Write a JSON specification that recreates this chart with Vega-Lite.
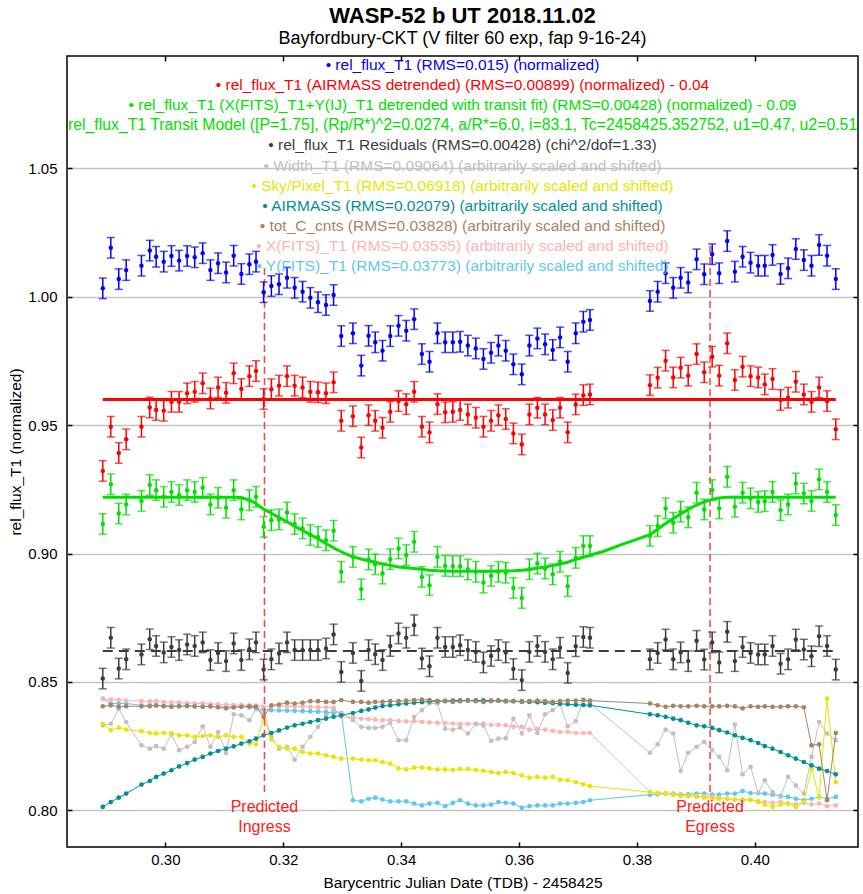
{
"$schema":"https://vega.github.io/schema/vega-lite/v6.json",
"width":791,"height":791,
"autosize":{"type":"none"},
"padding":{"left":67,"top":56,"right":5,"bottom":47},
"background":"white",
"title":{"text":"WASP-52 b UT 2018.11.02","subtitle":"Bayfordbury-CKT (V filter 60 exp, fap 9-16-24)","font":"Liberation Sans","fontSize":22,"fontWeight":"bold","subtitleFont":"Liberation Sans","subtitleFontSize":18,"color":"black","subtitleColor":"black","anchor":"middle","offset":6,"subtitlePadding":2},
"config":{
"view":{"stroke":"black","strokeWidth":1.5},
"font":"Liberation Sans",
"axis":{"labelFont":"Liberation Sans","titleFont":"Liberation Sans","labelColor":"black","titleColor":"black","labelFontSize":15,"titleFontSize":15.5,"titleFontWeight":"normal","domain":false,"tickColor":"black","tickSize":-5,"tickWidth":1.5,"grid":false}
},
"datasets":{
"obs":[
{"t":0.28937,"b":1.0033,"r":0.9322,"g":0.9115,"k":0.8513,"w":0.8331,"s":0.8337,"a":0.8013,"c":0.8405,"xf":0.8433,"yf":0.8435,"e":0.004},
{"t":0.29073,"b":1.0191,"r":0.9494,"g":0.9270,"k":0.8672,"w":0.8337,"s":0.8312,"a":0.8032,"c":0.8409,"xf":0.8431,"yf":0.8416,"e":0.004},
{"t":0.29208,"b":1.0069,"r":0.9392,"g":0.9156,"k":0.8552,"w":0.8395,"s":0.8322,"a":0.8049,"c":0.8403,"xf":0.8430,"yf":0.8416,"e":0.004},
{"t":0.29334,"b":1.0104,"r":0.9445,"g":0.9191,"k":0.8588,"w":0.8344,"s":0.8314,"a":0.8065,"c":0.8405,"xf":0.8427,"yf":0.8416,"e":0.004},
{"t":0.29593,"b":1.0121,"r":0.9494,"g":0.9205,"k":0.8607,"w":0.8253,"s":0.8308,"a":0.8100,"c":0.8405,"xf":0.8425,"yf":0.8409,"e":0.004},
{"t":0.29734,"b":1.0180,"r":0.9569,"g":0.9267,"k":0.8666,"w":0.8240,"s":0.8301,"a":0.8114,"c":0.8405,"xf":0.8424,"yf":0.8409,"e":0.004},
{"t":0.29842,"b":1.0156,"r":0.9559,"g":0.9247,"k":0.8640,"w":0.8250,"s":0.8299,"a":0.8130,"c":0.8409,"xf":0.8425,"yf":0.8408,"e":0.004},
{"t":0.29971,"b":1.0137,"r":0.9556,"g":0.9221,"k":0.8615,"w":0.8240,"s":0.8301,"a":0.8143,"c":0.8405,"xf":0.8421,"yf":0.8407,"e":0.004},
{"t":0.30102,"b":1.0159,"r":0.9591,"g":0.9240,"k":0.8636,"w":0.8295,"s":0.8301,"a":0.8156,"c":0.8403,"xf":0.8420,"yf":0.8407,"e":0.004},
{"t":0.30232,"b":1.0141,"r":0.9591,"g":0.9228,"k":0.8624,"w":0.8234,"s":0.8292,"a":0.8171,"c":0.8405,"xf":0.8419,"yf":0.8406,"e":0.004},
{"t":0.30368,"b":1.0159,"r":0.9624,"g":0.9247,"k":0.8646,"w":0.8247,"s":0.8292,"a":0.8184,"c":0.8407,"xf":0.8418,"yf":0.8405,"e":0.004},
{"t":0.30497,"b":1.0154,"r":0.9630,"g":0.9240,"k":0.8640,"w":0.8266,"s":0.8286,"a":0.8197,"c":0.8405,"xf":0.8416,"yf":0.8405,"e":0.004},
{"t":0.30632,"b":1.0170,"r":0.9663,"g":0.9256,"k":0.8654,"w":0.8327,"s":0.8289,"a":0.8208,"c":0.8403,"xf":0.8416,"yf":0.8404,"e":0.004},
{"t":0.30763,"b":1.0104,"r":0.9604,"g":0.9191,"k":0.8585,"w":0.8247,"s":0.8292,"a":0.8221,"c":0.8405,"xf":0.8414,"yf":0.8405,"e":0.004},
{"t":0.30893,"b":1.0131,"r":0.9647,"g":0.9217,"k":0.8613,"w":0.8305,"s":0.8286,"a":0.8231,"c":0.8401,"xf":0.8413,"yf":0.8403,"e":0.004},
{"t":0.31029,"b":1.0095,"r":0.9626,"g":0.9178,"k":0.8581,"w":0.8223,"s":0.8292,"a":0.8240,"c":0.8397,"xf":0.8412,"yf":0.8404,"e":0.004},
{"t":0.31158,"b":1.0160,"r":0.9702,"g":0.9247,"k":0.8650,"w":0.8374,"s":0.8286,"a":0.8249,"c":0.8401,"xf":0.8410,"yf":0.8402,"e":0.004},
{"t":0.31288,"b":1.0089,"r":0.9641,"g":0.9172,"k":0.8585,"w":0.8370,"s":0.8286,"a":0.8260,"c":0.8403,"xf":0.8411,"yf":0.8405,"e":0.004},
{"t":0.31424,"b":1.0127,"r":0.9691,"g":0.9208,"k":0.8627,"w":0.8351,"s":0.8260,"a":0.8269,"c":0.8405,"xf":0.8409,"yf":0.8401,"e":0.004},
{"t":0.31537,"b":1.0137,"r":0.9711,"g":0.9221,"k":0.8654,"w":0.8395,"s":0.8257,"a":0.8279,"c":0.8403,"xf":0.8408,"yf":0.8397,"e":0.004},
{"t":0.31666,"b":1.0018,"r":0.9602,"g":0.9104,"k":0.8548,"w":0.8380,"s":0.8364,"a":0.8292,"c":0.8364,"xf":0.8403,"yf":0.8392,"e":0.004},
{"t":0.31797,"b":1.0042,"r":0.9640,"g":0.9130,"k":0.8588,"w":0.8286,"s":0.8276,"a":0.8301,"c":0.8409,"xf":0.8407,"yf":0.8390,"e":0.004},
{"t":0.31927,"b":1.0049,"r":0.9654,"g":0.9133,"k":0.8611,"w":0.8240,"s":0.8247,"a":0.8311,"c":0.8412,"xf":0.8406,"yf":0.8389,"e":0.004},
{"t":0.32063,"b":1.0074,"r":0.9691,"g":0.9160,"k":0.8654,"w":0.8247,"s":0.8240,"a":0.8322,"c":0.8419,"xf":0.8405,"yf":0.8388,"e":0.004},
{"t":0.32192,"b":1.0035,"r":0.9654,"g":0.9115,"k":0.8624,"w":0.8197,"s":0.8240,"a":0.8331,"c":0.8416,"xf":0.8404,"yf":0.8387,"e":0.004},
{"t":0.32327,"b":1.0020,"r":0.9647,"g":0.9098,"k":0.8624,"w":0.8247,"s":0.8227,"a":0.8337,"c":0.8419,"xf":0.8404,"yf":0.8386,"e":0.004},
{"t":0.32458,"b":0.9996,"r":0.9630,"g":0.9072,"k":0.8624,"w":0.8286,"s":0.8221,"a":0.8344,"c":0.8425,"xf":0.8403,"yf":0.8385,"e":0.004},
{"t":0.32588,"b":0.9979,"r":0.9628,"g":0.9065,"k":0.8624,"w":0.8325,"s":0.8221,"a":0.8351,"c":0.8425,"xf":0.8402,"yf":0.8384,"e":0.004},
{"t":0.32724,"b":0.9968,"r":0.9624,"g":0.9052,"k":0.8630,"w":0.8370,"s":0.8214,"a":0.8357,"c":0.8422,"xf":0.8401,"yf":0.8382,"e":0.004},
{"t":0.32853,"b":1.0007,"r":0.9667,"g":0.9089,"k":0.8685,"w":0.8390,"s":0.8208,"a":0.8364,"c":0.8422,"xf":0.8400,"yf":0.8380,"e":0.004},
{"t":0.32983,"b":0.9847,"r":0.9517,"g":0.8929,"k":0.8539,"w":0.8377,"s":0.8201,"a":0.8370,"c":0.8429,"xf":0.8364,"yf":0.8379,"e":0.004},
{"t":0.33181,"b":0.9858,"r":0.9535,"g":0.8987,"k":0.8613,"w":0.8351,"s":0.8201,"a":0.8379,"c":0.8422,"xf":0.8361,"yf":0.8039,"e":0.004},
{"t":0.33322,"b":0.9732,"r":0.9413,"g":0.8861,"k":0.8504,"w":0.8325,"s":0.8197,"a":0.8387,"c":0.8422,"xf":0.8357,"yf":0.8035,"e":0.004},
{"t":0.33446,"b":0.9848,"r":0.9539,"g":0.8977,"k":0.8624,"w":0.8321,"s":0.8195,"a":0.8393,"c":0.8419,"xf":0.8355,"yf":0.8045,"e":0.004},
{"t":0.33559,"b":0.9823,"r":0.9517,"g":0.8958,"k":0.8608,"w":0.8321,"s":0.8195,"a":0.8400,"c":0.8422,"xf":0.8353,"yf":0.8049,"e":0.004},
{"t":0.33683,"b":0.9790,"r":0.9490,"g":0.8922,"k":0.8585,"w":0.8325,"s":0.8188,"a":0.8406,"c":0.8422,"xf":0.8351,"yf":0.8042,"e":0.004},
{"t":0.33814,"b":0.9847,"r":0.9552,"g":0.8978,"k":0.8640,"w":0.8340,"s":0.8182,"a":0.8409,"c":0.8425,"xf":0.8351,"yf":0.8035,"e":0.004},
{"t":0.33954,"b":0.9887,"r":0.9594,"g":0.9020,"k":0.8689,"w":0.8273,"s":0.8163,"a":0.8413,"c":0.8425,"xf":0.8348,"yf":0.8035,"e":0.004},
{"t":0.34085,"b":0.9868,"r":0.9582,"g":0.8994,"k":0.8672,"w":0.8273,"s":0.8159,"a":0.8416,"c":0.8427,"xf":0.8346,"yf":0.8035,"e":0.004},
{"t":0.34220,"b":0.9913,"r":0.9630,"g":0.9046,"k":0.8721,"w":0.8364,"s":0.8166,"a":0.8419,"c":0.8429,"xf":0.8347,"yf":0.8026,"e":0.004},
{"t":0.34351,"b":0.9777,"r":0.9494,"g":0.8909,"k":0.8591,"w":0.8390,"s":0.8166,"a":0.8421,"c":0.8431,"xf":0.8344,"yf":0.8019,"e":0.004},
{"t":0.34480,"b":0.9747,"r":0.9472,"g":0.8877,"k":0.8561,"w":0.8416,"s":0.8163,"a":0.8424,"c":0.8429,"xf":0.8342,"yf":0.8026,"e":0.004},
{"t":0.34615,"b":0.9858,"r":0.9582,"g":0.8987,"k":0.8672,"w":0.8416,"s":0.8159,"a":0.8425,"c":0.8425,"xf":0.8341,"yf":0.8029,"e":0.004},
{"t":0.34746,"b":0.9823,"r":0.9550,"g":0.8952,"k":0.8636,"w":0.8318,"s":0.8159,"a":0.8426,"c":0.8425,"xf":0.8340,"yf":0.8016,"e":0.004},
{"t":0.34876,"b":0.9823,"r":0.9552,"g":0.8951,"k":0.8636,"w":0.8314,"s":0.8157,"a":0.8427,"c":0.8422,"xf":0.8338,"yf":0.8029,"e":0.004},
{"t":0.35000,"b":0.9825,"r":0.9559,"g":0.8951,"k":0.8643,"w":0.8322,"s":0.8160,"a":0.8428,"c":0.8425,"xf":0.8336,"yf":0.8039,"e":0.004},
{"t":0.35131,"b":0.9810,"r":0.9542,"g":0.8938,"k":0.8624,"w":0.8299,"s":0.8160,"a":0.8428,"c":0.8427,"xf":0.8337,"yf":0.8026,"e":0.004},
{"t":0.35266,"b":0.9799,"r":0.9529,"g":0.8929,"k":0.8617,"w":0.8337,"s":0.8157,"a":0.8428,"c":0.8425,"xf":0.8336,"yf":0.8019,"e":0.004},
{"t":0.35395,"b":0.9758,"r":0.9494,"g":0.8887,"k":0.8576,"w":0.8330,"s":0.8154,"a":0.8428,"c":0.8422,"xf":0.8338,"yf":0.8019,"e":0.004},
{"t":0.35525,"b":0.9782,"r":0.9517,"g":0.8913,"k":0.8601,"w":0.8270,"s":0.8149,"a":0.8427,"c":0.8425,"xf":0.8333,"yf":0.8022,"e":0.004},
{"t":0.35649,"b":0.9810,"r":0.9539,"g":0.8929,"k":0.8624,"w":0.8279,"s":0.8145,"a":0.8427,"c":0.8427,"xf":0.8333,"yf":0.8032,"e":0.004},
{"t":0.35774,"b":0.9790,"r":0.9524,"g":0.8925,"k":0.8615,"w":0.8281,"s":0.8149,"a":0.8426,"c":0.8424,"xf":0.8332,"yf":0.8029,"e":0.004},
{"t":0.35903,"b":0.9737,"r":0.9468,"g":0.8866,"k":0.8550,"w":0.8357,"s":0.8145,"a":0.8425,"c":0.8425,"xf":0.8325,"yf":0.8026,"e":0.004},
{"t":0.36046,"b":0.9698,"r":0.9425,"g":0.8827,"k":0.8507,"w":0.8299,"s":0.8136,"a":0.8424,"c":0.8422,"xf":0.8325,"yf":0.8010,"e":0.004},
{"t":0.36175,"b":0.9810,"r":0.9542,"g":0.8939,"k":0.8617,"w":0.8370,"s":0.8127,"a":0.8422,"c":0.8425,"xf":0.8314,"yf":0.8016,"e":0.004},
{"t":0.36310,"b":0.9838,"r":0.9568,"g":0.8961,"k":0.8640,"w":0.8301,"s":0.8130,"a":0.8421,"c":0.8427,"xf":0.8316,"yf":0.8019,"e":0.004},
{"t":0.36441,"b":0.9815,"r":0.9542,"g":0.8942,"k":0.8617,"w":0.8374,"s":0.8127,"a":0.8419,"c":0.8425,"xf":0.8314,"yf":0.8019,"e":0.004},
{"t":0.36571,"b":0.9793,"r":0.9520,"g":0.8919,"k":0.8588,"w":0.8390,"s":0.8130,"a":0.8417,"c":0.8422,"xf":0.8309,"yf":0.8019,"e":0.004},
{"t":0.36695,"b":0.9842,"r":0.9568,"g":0.8968,"k":0.8633,"w":0.8413,"s":0.8119,"a":0.8415,"c":0.8425,"xf":0.8305,"yf":0.8026,"e":0.004},
{"t":0.36825,"b":0.9747,"r":0.9472,"g":0.8873,"k":0.8535,"w":0.8327,"s":0.8117,"a":0.8413,"c":0.8427,"xf":0.8305,"yf":0.8026,"e":0.004},
{"t":0.36961,"b":0.9858,"r":0.9581,"g":0.8983,"k":0.8639,"w":0.8347,"s":0.8110,"a":0.8411,"c":0.8427,"xf":0.8301,"yf":0.8029,"e":0.004},
{"t":0.37090,"b":0.9903,"r":0.9617,"g":0.9029,"k":0.8675,"w":0.8431,"s":0.8101,"a":0.8410,"c":0.8429,"xf":0.8301,"yf":0.8032,"e":0.004},
{"t":0.37203,"b":0.9910,"r":0.9620,"g":0.9029,"k":0.8672,"w":0.8416,"s":0.8094,"a":0.8409,"c":0.8427,"xf":0.8301,"yf":0.8039,"e":0.004},
{"t":0.38220,"b":0.9984,"r":0.9656,"g":0.9069,"k":0.8588,"w":0.8224,"s":0.8071,"a":0.8374,"c":0.8416,"xf":0.8071,"yf":0.8061,"e":0.004},
{"t":0.38351,"b":1.0020,"r":0.9685,"g":0.9107,"k":0.8613,"w":0.8257,"s":0.8067,"a":0.8370,"c":0.8409,"xf":0.8067,"yf":0.8062,"e":0.004},
{"t":0.38486,"b":1.0092,"r":0.9751,"g":0.9176,"k":0.8665,"w":0.8314,"s":0.8067,"a":0.8364,"c":0.8403,"xf":0.8065,"yf":0.8065,"e":0.004},
{"t":0.38615,"b":1.0035,"r":0.9686,"g":0.9120,"k":0.8588,"w":0.8299,"s":0.8062,"a":0.8357,"c":0.8407,"xf":0.8060,"yf":0.8065,"e":0.004},
{"t":0.38741,"b":1.0074,"r":0.9724,"g":0.9163,"k":0.8615,"w":0.8153,"s":0.8056,"a":0.8351,"c":0.8405,"xf":0.8062,"yf":0.8061,"e":0.004},
{"t":0.38869,"b":1.0056,"r":0.9693,"g":0.9141,"k":0.8581,"w":0.8224,"s":0.8056,"a":0.8341,"c":0.8405,"xf":0.8056,"yf":0.8062,"e":0.004},
{"t":0.39012,"b":1.0146,"r":0.9777,"g":0.9237,"k":0.8660,"w":0.8247,"s":0.8056,"a":0.8331,"c":0.8407,"xf":0.8052,"yf":0.8065,"e":0.004},
{"t":0.39141,"b":1.0088,"r":0.9706,"g":0.9172,"k":0.8587,"w":0.8266,"s":0.8049,"a":0.8327,"c":0.8405,"xf":0.8056,"yf":0.8065,"e":0.004},
{"t":0.39276,"b":1.0166,"r":0.9767,"g":0.9247,"k":0.8654,"w":0.8234,"s":0.8045,"a":0.8321,"c":0.8405,"xf":0.8052,"yf":0.8061,"e":0.004},
{"t":0.39395,"b":1.0092,"r":0.9693,"g":0.9176,"k":0.8576,"w":0.8208,"s":0.8045,"a":0.8312,"c":0.8405,"xf":0.8049,"yf":0.8061,"e":0.004},
{"t":0.39531,"b":1.0217,"r":0.9819,"g":0.9299,"k":0.8695,"w":0.8156,"s":0.8045,"a":0.8303,"c":0.8407,"xf":0.8045,"yf":0.8065,"e":0.004},
{"t":0.39661,"b":1.0098,"r":0.9676,"g":0.9182,"k":0.8581,"w":0.8334,"s":0.8042,"a":0.8292,"c":0.8405,"xf":0.8042,"yf":0.8065,"e":0.004},
{"t":0.39792,"b":1.0156,"r":0.9728,"g":0.9237,"k":0.8636,"w":0.8140,"s":0.8042,"a":0.8282,"c":0.8397,"xf":0.8039,"yf":0.8075,"e":0.004},
{"t":0.39927,"b":1.0133,"r":0.9691,"g":0.9215,"k":0.8613,"w":0.8169,"s":0.8039,"a":0.8273,"c":0.8405,"xf":0.8042,"yf":0.8067,"e":0.004},
{"t":0.40056,"b":1.0121,"r":0.9686,"g":0.9201,"k":0.8607,"w":0.8067,"s":0.8035,"a":0.8262,"c":0.8403,"xf":0.8032,"yf":0.8067,"e":0.004},
{"t":0.40169,"b":1.0121,"r":0.9659,"g":0.9204,"k":0.8607,"w":0.8117,"s":0.8023,"a":0.8250,"c":0.8405,"xf":0.8032,"yf":0.8065,"e":0.004},
{"t":0.40300,"b":1.0163,"r":0.9680,"g":0.9240,"k":0.8640,"w":0.8071,"s":0.8013,"a":0.8240,"c":0.8403,"xf":0.8029,"yf":0.8061,"e":0.004},
{"t":0.40436,"b":1.0089,"r":0.9598,"g":0.9169,"k":0.8571,"w":0.8052,"s":0.8023,"a":0.8227,"c":0.8403,"xf":0.8032,"yf":0.8056,"e":0.004},
{"t":0.40564,"b":1.0111,"r":0.9607,"g":0.9191,"k":0.8588,"w":0.8130,"s":0.8026,"a":0.8214,"c":0.8405,"xf":0.8026,"yf":0.8052,"e":0.004},
{"t":0.40695,"b":1.0186,"r":0.9669,"g":0.9273,"k":0.8665,"w":0.8097,"s":0.8013,"a":0.8201,"c":0.8405,"xf":0.8023,"yf":0.8045,"e":0.004},
{"t":0.40831,"b":1.0143,"r":0.9620,"g":0.9234,"k":0.8626,"w":0.8065,"s":0.8032,"a":0.8188,"c":0.8401,"xf":0.8029,"yf":0.8039,"e":0.004},
{"t":0.40961,"b":1.0121,"r":0.9591,"g":0.9205,"k":0.8600,"w":0.8208,"s":0.8162,"a":0.8175,"c":0.8253,"xf":0.8023,"yf":0.8045,"e":0.004},
{"t":0.41090,"b":1.0202,"r":0.9647,"g":0.9289,"k":0.8678,"w":0.8344,"s":0.8050,"a":0.8162,"c":0.8257,"xf":0.8026,"yf":0.8052,"e":0.004},
{"t":0.41225,"b":1.0160,"r":0.9594,"g":0.9240,"k":0.8640,"w":0.8299,"s":0.8435,"a":0.8153,"c":0.8039,"xf":0.8016,"yf":0.8045,"e":0.004},
{"t":0.41373,"b":1.0069,"r":0.9484,"g":0.9150,"k":0.8548,"w":0.8273,"s":0.8110,"a":0.8140,"c":0.8301,"xf":0.8019,"yf":0.8052,"e":0.004}
],
"model":[
{"t":0.28937,"m":0.9219},{"t":0.29073,"m":0.9219},{"t":0.29208,"m":0.9219},{"t":0.29334,"m":0.9219},{"t":0.29593,"m":0.9219},{"t":0.29734,"m":0.9219},{"t":0.29842,"m":0.9219},{"t":0.29971,"m":0.9219},{"t":0.30102,"m":0.9219},{"t":0.30232,"m":0.9219},{"t":0.30368,"m":0.9219},{"t":0.30497,"m":0.9219},{"t":0.30632,"m":0.9219},{"t":0.30763,"m":0.9219},{"t":0.30893,"m":0.9219},{"t":0.31029,"m":0.9219},{"t":0.31158,"m":0.9219},{"t":0.31288,"m":0.9218},{"t":0.31424,"m":0.9208},{"t":0.31537,"m":0.9195},{"t":0.31666,"m":0.9173},{"t":0.31797,"m":0.9157},{"t":0.31927,"m":0.9141},{"t":0.32063,"m":0.9124},{"t":0.32192,"m":0.9107},{"t":0.32327,"m":0.9090},{"t":0.32458,"m":0.9074},{"t":0.32588,"m":0.9057},{"t":0.32724,"m":0.9039},{"t":0.32853,"m":0.9022},
{"t":0.32983,"m":0.9007},{"t":0.33181,"m":0.8987},{"t":0.33322,"m":0.8979},{"t":0.33446,"m":0.8972},{"t":0.33559,"m":0.8966},{"t":0.33683,"m":0.8959},{"t":0.33814,"m":0.8954},{"t":0.33954,"m":0.8948},{"t":0.34085,"m":0.8945},{"t":0.34220,"m":0.8942},{"t":0.34351,"m":0.8939},{"t":0.34480,"m":0.8935},{"t":0.34615,"m":0.8933},{"t":0.34746,"m":0.8932},{"t":0.34876,"m":0.8931},{"t":0.35000,"m":0.8931},{"t":0.35131,"m":0.8931},{"t":0.35266,"m":0.8931},{"t":0.35395,"m":0.8931},{"t":0.35525,"m":0.8931},{"t":0.35649,"m":0.8932},{"t":0.35774,"m":0.8932},{"t":0.35903,"m":0.8933},{"t":0.36046,"m":0.8935},{"t":0.36175,"m":0.8938},{"t":0.36310,"m":0.8944},{"t":0.36441,"m":0.8948},{"t":0.36571,"m":0.8953},{"t":0.36695,"m":0.8959},{"t":0.36825,"m":0.8966},{"t":0.36961,"m":0.8977},{"t":0.37090,"m":0.8985},{"t":0.37203,"m":0.8994},
{"t":0.37429,"m":0.9008},{"t":0.37712,"m":0.9033},{"t":0.37995,"m":0.9055},
{"t":0.38220,"m":0.9074},{"t":0.38351,"m":0.9095},{"t":0.38486,"m":0.9117},{"t":0.38615,"m":0.9136},{"t":0.38741,"m":0.9154},{"t":0.38869,"m":0.9172},{"t":0.39012,"m":0.9189},{"t":0.39141,"m":0.9201},{"t":0.39276,"m":0.9211},{"t":0.39395,"m":0.9216},{"t":0.39531,"m":0.9219},{"t":0.39661,"m":0.9219},{"t":0.39792,"m":0.9219},{"t":0.39927,"m":0.9219},{"t":0.40056,"m":0.9219},{"t":0.40169,"m":0.9219},{"t":0.40300,"m":0.9219},{"t":0.40436,"m":0.9219},{"t":0.40564,"m":0.9219},{"t":0.40695,"m":0.9219},{"t":0.40831,"m":0.9219},{"t":0.40961,"m":0.9219},{"t":0.41090,"m":0.9219},{"t":0.41225,"m":0.9219},{"t":0.41373,"m":0.9219}
],
"ann":[
{"t":0.3168,"lo":0.8071,"hi":1.0112,"lab":"Predicted\nIngress"},
{"t":0.3924,"lo":0.8071,"hi":1.0213,"lab":"Predicted\nEgress"}
],
"refs":[
{"t0":0.28937,"t1":0.41373,"v":0.96,"name":"red"},
{"t0":0.28937,"t1":0.41373,"v":0.862,"name":"resid"}
],
"legend":[
{"k":"l01","label":"• rel_flux_T1 (RMS=0.015) (normalized)"},
{"k":"l02","label":"• rel_flux_T1 (AIRMASS detrended) (RMS=0.00899) (normalized) - 0.04"},
{"k":"l03","label":"• rel_flux_T1 (X(FITS)_T1+Y(IJ)_T1 detrended with transit fit) (RMS=0.00428) (normalized) - 0.09"},
{"k":"l05","label":"• rel_flux_T1 Residuals (RMS=0.00428) (chi^2/dof=1.33)"},
{"k":"l06","label":"• Width_T1 (RMS=0.09064) (arbitrarily scaled and shifted)"},
{"k":"l07","label":"• Sky/Pixel_T1 (RMS=0.06918) (arbitrarily scaled and shifted)"},
{"k":"l08","label":"• AIRMASS (RMS=0.02079) (arbitrarily scaled and shifted)"},
{"k":"l09","label":"• tot_C_cnts (RMS=0.03828) (arbitrarily scaled and shifted)"},
{"k":"l10","label":"• X(FITS)_T1 (RMS=0.03535) (arbitrarily scaled and shifted)"},
{"k":"l11","label":"• Y(FITS)_T1 (RMS=0.03773) (arbitrarily scaled and shifted)"}
],
"legend2":[
{"k":"l04","label":"rel_flux_T1 Transit Model ([P=1.75], (Rp/R*)^2=0.0274, a/R*=6.0, i=83.1, Tc=2458425.352752, u1=0.47, u2=0.51)"}
]
},
"resolve":{"scale":{"y":"independent","color":"independent"},"axis":{"x":"independent","y":"independent"}},
"layer":[
{
"encoding":{"x":{"field":"t","type":"quantitative","title":"Barycentric Julian Date (TDB) - 2458425","scale":{"domain":[0.2833,0.4175],"nice":false,"zero":false},"axis":{"values":[0.30,0.32,0.34,0.36,0.38,0.40],"format":".2f","labelPadding":10,"titlePadding":8}}},
"layer":[
{"data":{"name":"obs"},"mark":{"type":"line","color":"#5cc8f2","strokeWidth":1,"point":{"filled":true,"size":22,"color":"#5cc8f2"}},"encoding":{"y":{"field":"yf","type":"quantitative","title":"rel_flux_T1 (normalized)","scale":{"domain":[0.7857,1.0938],"nice":false,"zero":false},"axis":{"values":[0.80,0.85,0.90,0.95,1.00,1.05],"format":".2f","grid":true,"gridColor":"#c4c4c4","gridWidth":1.3,"labelPadding":15,"titlePadding":4}}}},
{"data":{"name":"obs"},"mark":{"type":"line","color":"#ffb2b2","strokeWidth":1,"point":{"filled":true,"size":22,"color":"#ffb2b2"}},"encoding":{"y":{"field":"xf","type":"quantitative","title":"rel_flux_T1 (normalized)","scale":{"domain":[0.7857,1.0938],"nice":false,"zero":false}}}},
{"data":{"name":"obs"},"mark":{"type":"line","color":"#c0c0c0","strokeWidth":1,"point":{"filled":true,"size":22,"color":"#c0c0c0"}},"encoding":{"y":{"field":"w","type":"quantitative","title":"rel_flux_T1 (normalized)","scale":{"domain":[0.7857,1.0938],"nice":false,"zero":false}}}},
{"data":{"name":"obs"},"mark":{"type":"line","color":"#e6e600","strokeWidth":1,"point":{"filled":true,"size":22,"color":"#e6e600"}},"encoding":{"y":{"field":"s","type":"quantitative","title":"rel_flux_T1 (normalized)","scale":{"domain":[0.7857,1.0938],"nice":false,"zero":false}}}},
{"data":{"name":"obs"},"mark":{"type":"line","color":"#008f99","strokeWidth":1,"point":{"filled":true,"size":22,"color":"#008f99"}},"encoding":{"y":{"field":"a","type":"quantitative","title":"rel_flux_T1 (normalized)","scale":{"domain":[0.7857,1.0938],"nice":false,"zero":false}}}},
{"data":{"name":"obs"},"mark":{"type":"line","color":"#a68463","strokeWidth":1,"point":{"filled":true,"size":22,"color":"#a68463"}},"encoding":{"y":{"field":"c","type":"quantitative","title":"rel_flux_T1 (normalized)","scale":{"domain":[0.7857,1.0938],"nice":false,"zero":false}}}},
{"data":{"name":"ann"},"mark":{"type":"rule","color":"#ff4040","strokeWidth":1.5,"strokeDash":[7,4]},"encoding":{"y":{"field":"lo","type":"quantitative","title":"rel_flux_T1 (normalized)","scale":{"domain":[0.7857,1.0938],"nice":false,"zero":false}},"y2":{"field":"hi"}}},
{"data":{"name":"ann"},"mark":{"type":"text","color":"#ff2020","fontSize":16,"font":"Liberation Sans","align":"center","baseline":"top","lineBreak":"\n","lineHeight":20},"encoding":{"y":{"datum":0.8045,"type":"quantitative","title":"rel_flux_T1 (normalized)","scale":{"domain":[0.7857,1.0938],"nice":false,"zero":false}},"text":{"field":"lab"}}},
{"data":{"name":"refs"},"transform":[{"filter":"datum.name == 'resid'"}],"mark":{"type":"rule","color":"#3c3c3c","strokeWidth":2,"strokeDash":[10,6]},"encoding":{"x":{"field":"t0","type":"quantitative"},"x2":{"field":"t1"},"y":{"field":"v","type":"quantitative","title":"rel_flux_T1 (normalized)","scale":{"domain":[0.7857,1.0938],"nice":false,"zero":false}}}},
{"data":{"name":"obs"},"mark":{"type":"errorbar","color":"#3c3c3c","thickness":1.5,"ticks":{"size":8}},"encoding":{"y":{"field":"k","type":"quantitative","title":"rel_flux_T1 (normalized)","scale":{"domain":[0.7857,1.0938],"nice":false,"zero":false}},"yError":{"field":"e"}}},
{"data":{"name":"obs"},"mark":{"type":"point","filled":true,"size":20,"opacity":1,"color":"#3c3c3c"},"encoding":{"y":{"field":"k","type":"quantitative","title":"rel_flux_T1 (normalized)","scale":{"domain":[0.7857,1.0938],"nice":false,"zero":false}}}},
{"data":{"name":"obs"},"mark":{"type":"errorbar","color":"#00e000","thickness":1.5,"ticks":{"size":8}},"encoding":{"y":{"field":"g","type":"quantitative","title":"rel_flux_T1 (normalized)","scale":{"domain":[0.7857,1.0938],"nice":false,"zero":false}},"yError":{"field":"e"}}},
{"data":{"name":"obs"},"mark":{"type":"point","filled":true,"size":20,"opacity":1,"color":"#00e000"},"encoding":{"y":{"field":"g","type":"quantitative","title":"rel_flux_T1 (normalized)","scale":{"domain":[0.7857,1.0938],"nice":false,"zero":false}}}},
{"data":{"name":"model"},"mark":{"type":"line","color":"#00e000","strokeWidth":3},"encoding":{"y":{"field":"m","type":"quantitative","title":"rel_flux_T1 (normalized)","scale":{"domain":[0.7857,1.0938],"nice":false,"zero":false}}}},
{"data":{"name":"refs"},"transform":[{"filter":"datum.name == 'red'"}],"mark":{"type":"rule","color":"#ff0000","strokeWidth":3},"encoding":{"x":{"field":"t0","type":"quantitative"},"x2":{"field":"t1"},"y":{"field":"v","type":"quantitative","title":"rel_flux_T1 (normalized)","scale":{"domain":[0.7857,1.0938],"nice":false,"zero":false}}}},
{"data":{"name":"obs"},"mark":{"type":"errorbar","color":"#ff0000","thickness":1.5,"ticks":{"size":8}},"encoding":{"y":{"field":"r","type":"quantitative","title":"rel_flux_T1 (normalized)","scale":{"domain":[0.7857,1.0938],"nice":false,"zero":false}},"yError":{"field":"e"}}},
{"data":{"name":"obs"},"mark":{"type":"point","filled":true,"size":20,"opacity":1,"color":"#ff0000"},"encoding":{"y":{"field":"r","type":"quantitative","title":"rel_flux_T1 (normalized)","scale":{"domain":[0.7857,1.0938],"nice":false,"zero":false}}}},
{"data":{"name":"obs"},"mark":{"type":"errorbar","color":"#0000ff","thickness":1.5,"ticks":{"size":8}},"encoding":{"y":{"field":"b","type":"quantitative","title":"rel_flux_T1 (normalized)","scale":{"domain":[0.7857,1.0938],"nice":false,"zero":false}},"yError":{"field":"e"}}},
{"data":{"name":"obs"},"mark":{"type":"point","filled":true,"size":20,"opacity":1,"color":"#0000ff"},"encoding":{"y":{"field":"b","type":"quantitative","title":"rel_flux_T1 (normalized)","scale":{"domain":[0.7857,1.0938],"nice":false,"zero":false}}}}
]
},
{
"layer":[
{"data":{"name":"legend"},"mark":{"type":"text","font":"Liberation Sans","fontSize":15.5,"align":"center","baseline":"middle"},"encoding":{"x":{"datum":0.3504,"type":"quantitative","axis":null},"y":{"field":"k","type":"ordinal","scale":{"type":"point","domain":["l01","l02","l03","l04","l05","l06","l07","l08","l09","l10","l11"],"range":[9,210],"padding":0},"axis":null},"text":{"field":"label"},"color":{"field":"k","type":"nominal","scale":{"domain":["l01","l02","l03","l04","l05","l06","l07","l08","l09","l10","l11"],"range":["#0000ff","#ff0000","#00e000","#00e000","#3c3c3c","#c0c0c0","#e6e600","#008f99","#a68463","#ffb2b2","#5cc8f2"]},"legend":null}}},
{"data":{"name":"legend2"},"mark":{"type":"text","font":"Liberation Sans","fontSize":15.8,"align":"left","baseline":"middle","dx":1,"clip":true},"encoding":{"x":{"datum":0.2833,"type":"quantitative","axis":null},"y":{"field":"k","type":"ordinal","scale":{"type":"point","domain":["l01","l02","l03","l04","l05","l06","l07","l08","l09","l10","l11"],"range":[9,210],"padding":0},"axis":null},"text":{"field":"label"},"color":{"field":"k","type":"nominal","scale":{"domain":["l01","l02","l03","l04","l05","l06","l07","l08","l09","l10","l11"],"range":["#0000ff","#ff0000","#00e000","#00e000","#3c3c3c","#c0c0c0","#e6e600","#008f99","#a68463","#ffb2b2","#5cc8f2"]},"legend":null}}}
]
},
{"data":{"name":"refs"},"mark":{"type":"rule","opacity":0},"encoding":{"x":{"field":"t0","type":"quantitative","scale":{"domain":[0.2833,0.4175],"nice":false,"zero":false},"axis":{"orient":"top","values":[0.30,0.32,0.34,0.36,0.38,0.40],"labels":false,"title":null}},"y":{"field":"v","type":"quantitative","scale":{"domain":[0.7857,1.0938],"nice":false,"zero":false},"axis":{"orient":"right","values":[0.80,0.85,0.90,0.95,1.00,1.05],"labels":false,"title":null}}}}
]
}
